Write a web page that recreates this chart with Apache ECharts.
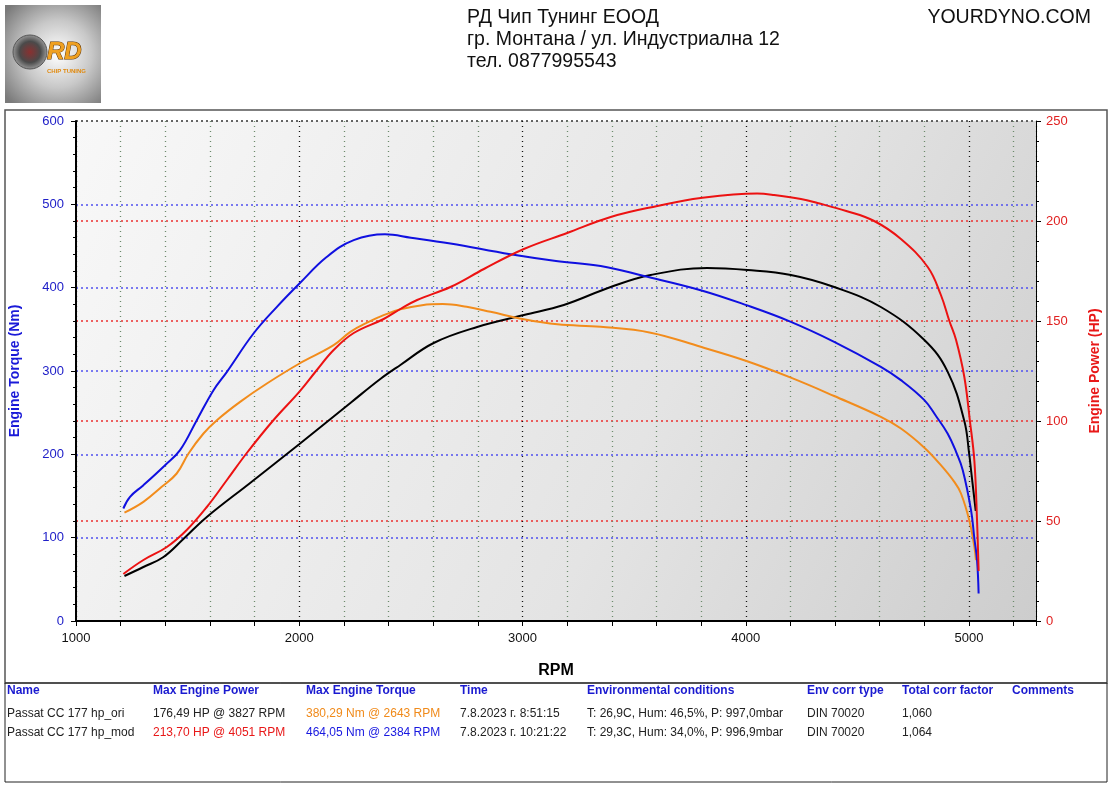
<!DOCTYPE html>
<html>
<head>
<meta charset="utf-8">
<title>Dyno - Passat CC 177 hp</title>
<script src="https://cdn.jsdelivr.net/npm/echarts@6/dist/echarts.min.js"></script>
<style>
  html, body { margin: 0; padding: 0; background: #fff; }
  #main { width: 1112px; height: 788px; }
</style>
</head>
<body>
<div id="main"></div>
<script>
// axis ticks
var rpmMin = 1000, rpmMax = 5300;
var torqueTicks = [0, 100, 200, 300, 400, 500, 600];
var powerTicks = [0, 50, 100, 150, 200, 250];

// mod torque (Nm) - blue
var modTqRpm = [1212,1242,1302,1399,1466,1541,1616,1676,1795,1900,2001,2124,2244,2384,2500,2677,2946,3150,3350,3544,3798,4003,4202,4396,4605,4695,4800,4852,4904,4942,4972,5009,5024,5036,5043];
var modTq    = [135, 149, 163, 187, 205, 241, 277, 299, 345, 377, 405, 437, 457, 464, 460, 453, 440, 432, 426, 414, 397, 379, 359, 335, 305, 289, 265, 246, 225, 203, 181, 133, 99,  73,  33];

// mod power (HP) - red
var modHpRpm = [1212,1302,1407,1496,1586,1676,1765,1885,2001,2079,2154,2244,2378,2453,2528,2677,2827,3006,3200,3395,3604,3798,4051,4127,4247,4321,4450,4575,4695,4815,4874,4912,4942,4979,5004,5024,5036,5043];
var modHp    = [23.5,30.5,37, 45.5,57,  70.5,84,  100.5,114.7,125.5,135.5,144,151,156,160.5,167,176, 186, 194, 202, 207.5,211.5,213.7,213,211, 209, 205, 200, 191, 177, 163, 150, 140.5,122,100, 80,  50,  25];

// ori torque (Nm) - orange
var oriTqRpm = [1217,1302,1384,1451,1504,1571,1631,1735,1855,2001,2154,2229,2304,2378,2453,2550,2643,2750,2857,3006,3156,3350,3574,3798,4003,4202,4396,4605,4695,4800,4874,4934,4964,5001,5024,5031];
var oriTq    = [130, 143, 161, 177, 201, 225, 241, 263, 285, 309, 331, 347, 358, 367, 374, 379, 380.3,377,371, 362, 356, 353, 346, 329, 312, 292, 270, 245, 231, 208, 187, 167, 153, 121, 89,  73];

// ori power (HP) - black
var oriHpRpm = [1217,1302,1392,1481,1586,1780,2001,2229,2363,2453,2602,2797,3006,3185,3395,3574,3827,4008,4202,4396,4605,4800,4904,4979,5001,5009,5030];
var oriHp    = [22.5,27,  32,  41,  52,  69,  88.5,109, 121, 128, 139, 147, 153, 158, 167, 173, 176.5,175.5,173,167, 157, 140.5,124.7,100,83.3,75.5,55];

// result table
var tableHead = ['Name', 'Max Engine Power', 'Max Engine Torque', 'Time', 'Environmental conditions', 'Env corr type', 'Total corr factor', 'Comments'];
var tableRows = [
  ['Passat CC 177 hp_ori', '176,49 HP @ 3827 RPM', '380,29 Nm @ 2643 RPM', '7.8.2023 г. 8:51:15', 'T: 26,9C, Hum: 46,5%, P: 997,0mbar', 'DIN 70020', '1,060', ''],
  ['Passat CC 177 hp_mod', '213,70 HP @ 4051 RPM', '464,05 Nm @ 2384 RPM', '7.8.2023 г. 10:21:22', 'T: 29,3C, Hum: 34,0%, P: 996,9mbar', 'DIN 70020', '1,064', '']
];

function pairs(xs, ys) {
  var out = [];
  for (var i = 0; i < xs.length; i++) out.push([xs[i], ys[i]]);
  return out;
}

var font = 'Liberation Sans, Arial, sans-serif';
var colX = [7, 153, 306, 460, 587, 807, 902, 1012];
var rowColors = [
  ['#222', '#222', '#f08a1a', '#222', '#222', '#222', '#222', '#222'],
  ['#222', '#e81818', '#1818e0', '#222', '#222', '#222', '#222', '#222']
];

var graphics = [];
// logo
graphics.push({
  type: 'rect', shape: { x: 5, y: 5, width: 96, height: 98 },
  style: { fill: { type: 'radial', x: 0.55, y: 0.5, r: 0.7,
    colorStops: [{ offset: 0, color: '#ffffff' }, { offset: 0.5, color: '#c8c8c8' }, { offset: 1, color: '#7a7a7a' }] } }
});
graphics.push({ type: 'circle', shape: { cx: 30, cy: 52, r: 17 },
  style: { fill: { type: 'radial', x: 0.5, y: 0.5, r: 0.5,
    colorStops: [{ offset: 0, color: '#8a3030' }, { offset: 0.6, color: '#4a4a4a' }, { offset: 1, color: '#9a9a9a' }] },
    stroke: '#555', lineWidth: 1 } });
graphics.push({ type: 'text', x: 47, y: 52, style: { text: 'RD', font: 'italic bold 24px ' + font, fill: '#f0a020', stroke: '#5a3000', lineWidth: 1, verticalAlign: 'middle' } });
graphics.push({ type: 'text', x: 47, y: 71, style: { text: 'CHIP TUNING', font: 'bold 6px ' + font, fill: '#e08a10', verticalAlign: 'middle' } });

// header text
var hdr = ['РД Чип Тунинг ЕООД', 'гр. Монтана / ул. Индустриална 12', 'тел. 0877995543'];
for (var h = 0; h < hdr.length; h++) {
  graphics.push({ type: 'text', x: 467, y: 18 + h * 22,
    style: { text: hdr[h], font: '19.5px ' + font, fill: '#111', verticalAlign: 'middle' } });
}
graphics.push({ type: 'text', x: 1091, y: 18,
  style: { text: 'YOURDYNO.COM', font: '19.5px ' + font, fill: '#111', align: 'right', verticalAlign: 'middle' } });

// frames
graphics.push({ type: 'rect', z: -10, shape: { x: 5, y: 110, width: 1102, height: 573 },
  style: { fill: 'none', stroke: '#555', lineWidth: 1.5 } });
graphics.push({ type: 'rect', z: -10, shape: { x: 5, y: 683, width: 1102, height: 99 },
  style: { fill: 'none', stroke: '#222', lineWidth: 1 } });

// table
for (var c = 0; c < tableHead.length; c++) {
  graphics.push({ type: 'text', x: colX[c], y: 691,
    style: { text: tableHead[c], font: 'bold 12px ' + font, fill: '#1a1ad0', verticalAlign: 'middle' } });
}
for (var r = 0; r < tableRows.length; r++) {
  for (var c2 = 0; c2 < tableRows[r].length; c2++) {
    if (!tableRows[r][c2]) continue;
    graphics.push({ type: 'text', x: colX[c2], y: 714 + r * 19,
      style: { text: tableRows[r][c2], font: '12px ' + font, fill: rowColors[r][c2], verticalAlign: 'middle' } });
  }
}

var blueGrid = '#5050f0';

var chart = echarts.init(document.getElementById('main'));
chart.setOption({
  animation: false,
  backgroundColor: '#fff',
  grid: {
    left: 76, right: 76, top: 121, bottom: 167,
    show: true, borderWidth: 0,
    backgroundColor: { type: 'linear', x: 0, y: 0, x2: 1, y2: 1,
      colorStops: [{ offset: 0, color: '#f8f8f8' }, { offset: 0.6, color: '#e4e4e4' }, { offset: 1, color: '#cdcdcd' }] }
  },
  xAxis: {
    type: 'value', min: rpmMin, max: rpmMax, interval: 200,
    name: 'RPM', nameLocation: 'middle', nameGap: 42,
    nameTextStyle: { fontFamily: font, fontSize: 16, fontWeight: 'bold', color: '#000' },
    axisLine: { lineStyle: { color: '#000', width: 2 } },
    axisTick: { length: 5, lineStyle: { color: '#000' } },
    axisLabel: { fontFamily: font, fontSize: 13, color: '#111', margin: 11,
      formatter: function (v) { return v % 1000 === 0 ? String(v) : ''; } },
    splitLine: { show: true, lineStyle: { type: [1, 4], width: 1.3,
      color: ['#111', '#6c8a6c', '#6c8a6c', '#6c8a6c', '#6c8a6c'] } }
  },
  yAxis: [{
    type: 'value', min: torqueTicks[0], max: torqueTicks[torqueTicks.length - 1], interval: 100,
    position: 'left',
    name: 'Engine Torque (Nm)', nameLocation: 'middle', nameGap: 54, nameRotate: 90,
    nameTextStyle: { fontFamily: font, fontSize: 14, fontWeight: 'bold', color: '#1a1ad8' },
    axisLine: { show: true, lineStyle: { color: '#000', width: 2 } },
    axisTick: { show: true, length: 5, lineStyle: { color: '#000' } },
    minorTick: { show: true, splitNumber: 5, length: 3, lineStyle: { color: '#000' } },
    axisLabel: { fontFamily: font, fontSize: 13, color: '#2020c8', margin: 12 },
    splitLine: { show: true, lineStyle: { type: [2, 3], width: 1.5,
      color: [blueGrid, blueGrid, blueGrid, blueGrid, blueGrid, blueGrid, '#333'] } }
  }, {
    type: 'value', min: powerTicks[0], max: powerTicks[powerTicks.length - 1], interval: 50,
    position: 'right',
    name: 'Engine Power (HP)', nameLocation: 'middle', nameGap: 52, nameRotate: 90,
    nameTextStyle: { fontFamily: font, fontSize: 14, fontWeight: 'bold', color: '#e81818' },
    axisLine: { show: true, lineStyle: { color: '#000', width: 1 } },
    axisTick: { show: true, length: 5, lineStyle: { color: '#000' } },
    minorTick: { show: true, splitNumber: 5, length: 3, lineStyle: { color: '#000' } },
    axisLabel: { fontFamily: font, fontSize: 13, color: '#e02020', margin: 10 },
    splitLine: { show: true, showMaxLine: false, lineStyle: { type: [2, 3], width: 1.5, color: '#ec3030' } }
  }],
  graphic: graphics,
  series: [{
    name: 'Passat CC 177 hp_ori power', type: 'line', yAxisIndex: 1,
    data: pairs(oriHpRpm, oriHp), smooth: 0.4, showSymbol: false,
    lineStyle: { color: '#000', width: 2 }
  }, {
    name: 'Passat CC 177 hp_ori torque', type: 'line', yAxisIndex: 0,
    data: pairs(oriTqRpm, oriTq), smooth: 0.4, showSymbol: false,
    lineStyle: { color: '#f28c1c', width: 2 }
  }, {
    name: 'Passat CC 177 hp_mod torque', type: 'line', yAxisIndex: 0,
    data: pairs(modTqRpm, modTq), smooth: 0.4, showSymbol: false,
    lineStyle: { color: '#1010e0', width: 2 }
  }, {
    name: 'Passat CC 177 hp_mod power', type: 'line', yAxisIndex: 1,
    data: pairs(modHpRpm, modHp), smooth: 0.4, showSymbol: false,
    lineStyle: { color: '#ec1212', width: 2 }
  }]
});
</script>
</body>
</html>
